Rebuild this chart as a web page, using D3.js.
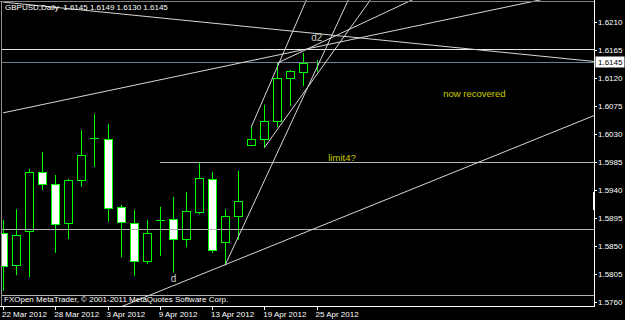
<!DOCTYPE html>
<html>
<head>
<meta charset="utf-8">
<script src="https://cdn.jsdelivr.net/npm/d3@7"></script>
<style>
  html, body { margin: 0; padding: 0; background: #000; }
  svg { display: block; }
  text { font-family: "Liberation Sans", Arial, sans-serif; }
</style>
</head>
<body>
<svg id="chart"></svg>
<script>
// GBPUSD daily, 22 Mar - 25 Apr 2012
const dates = [
    "22 Mar", "23 Mar", "26 Mar", "27 Mar", "28 Mar", "29 Mar", "30 Mar", "2 Apr", "3 Apr",
    "4 Apr", "5 Apr", "6 Apr", "9 Apr", "10 Apr", "11 Apr", "12 Apr", "13 Apr", "16 Apr",
    "17 Apr", "18 Apr", "19 Apr", "20 Apr", "23 Apr", "24 Apr", "25 Apr"
];
const opens = [1.5871, 1.5819, 1.5874, 1.5969, 1.5950, 1.5887, 1.5956, 1.6025, 1.6022, 1.5913, 1.5887, 1.5826, 1.5892,
    1.5893, 1.5861, 1.5905, 1.5958, 1.5856, 1.5898, 1.6012, 1.6022, 1.6051, 1.6120, 1.6130, 1.6145];
const highs = [1.5892, 1.5909, 1.5974, 1.6001, 1.5964, 1.5958, 1.6036, 1.6062, 1.6046, 1.5916, 1.5908, 1.5892, 1.5913,
    1.5929, 1.5937, 1.5983, 1.5969, 1.5909, 1.5971, 1.6041, 1.6077, 1.6144, 1.6133, 1.6160, 1.6149];
const lows = [1.5778, 1.5803, 1.5800, 1.5940, 1.5839, 1.5861, 1.5945, 1.5977, 1.5889, 1.5832, 1.5802, 1.5821, 1.5834,
    1.5807, 1.5848, 1.5901, 1.5839, 1.5819, 1.5860, 1.6011, 1.6008, 1.6041, 1.6075, 1.6107, 1.6130];
const closes = [1.5818, 1.5868, 1.5969, 1.5950, 1.5885, 1.5956, 1.5996, 1.6023, 1.5911, 1.5889, 1.5826, 1.5871, 1.5892,
    1.5861, 1.5906, 1.5959, 1.5844, 1.5898, 1.5922, 1.6022, 1.6051, 1.6120, 1.6131, 1.6144, 1.6145];

const priceTicks = [1.6210, 1.6165, 1.6120, 1.6075, 1.6030, 1.5985, 1.5940, 1.5895, 1.5850, 1.5805, 1.5760];
const dateTickIndex = [0, 4, 8, 12, 16, 20, 24];
const dateTickLabels = ["22 Mar 2012", "28 Mar 2012", "3 Apr 2012", "9 Apr 2012", "13 Apr 2012", "19 Apr 2012", "25 Apr 2012"];

const lastPrice = 1.6145;
const title = "GBPUSD,Daily  1.6145 1.6149 1.6130 1.6145";
const copyright = "FXOpen MetaTrader, \u00a9 2001-2011 MetaQuotes Software Corp.";

// horizontal lines: [fromIndex or null (full width), price]
const hLines = [[null, 1.6167], [12, 1.5985], [null, 1.5877], [null, 1.5772]];
// trend lines: [index1, price1, index2, price2]
const trendLines = [
    [0, 1.6242, 46, 1.6145],
    [0, 1.6064, 46, 1.6267],
    [9, 1.5752, 46, 1.6066],
    [17, 1.5819, 27, 1.6271],
    [19, 1.6041, 24, 1.6283],
    [20, 1.6008, 29, 1.6271],
    [21, 1.6144, 33, 1.6262]
];
// text objects: [text, index, price, kind]
const notes = [
    ["d2", 23.6, 1.6180, "white"],
    ["d", 12.85, 1.5792, "white"],
    ["limit4?", 24.9, 1.5987, "yellow"],
    ["now recovered", 33.7, 1.6089, "yellow"]
];

const width = 625;
const height = 320;
const plot = { left: 2, right: 594, top: 2, bottom: 306 };

const svg = d3.select("#chart").attr("width", width).attr("height", height);
svg.append("rect").attr("width", width).attr("height", height).attr("fill", "#000");

const x = d3.scaleLinear().domain([0, 24]).range([3, 316.5]);
const y = d3.scaleLinear().domain([1.5760, 1.6210]).range([302, 22]);

svg.append("clipPath").attr("id", "plotClip")
    .append("rect")
    .attr("x", plot.left).attr("y", 0)
    .attr("width", plot.right - plot.left).attr("height", plot.bottom);

const area = svg.append("g").attr("clip-path", "url(#plotClip)");

// candles
const candles = dates.map((d, i) => ({ i, o: opens[i], h: highs[i], l: lows[i], c: closes[i] }));
const green = "#00ff00";
const cg = area.append("g").attr("class", "candles");

cg.selectAll("line.wick")
    .data(candles)
    .join("line")
    .attr("class", "wick")
    .attr("x1", (d) => Math.round(x(d.i)) + 0.5)
    .attr("x2", (d) => Math.round(x(d.i)) + 0.5)
    .attr("y1", (d) => y(d.h))
    .attr("y2", (d) => y(d.l))
    .attr("stroke", green)
    .attr("stroke-width", 1);

cg.selectAll("rect.body")
    .data(candles.filter((d) => Math.abs(y(d.o) - y(d.c)) >= 1.5))
    .join("rect")
    .attr("class", "body")
    .attr("x", (d) => Math.round(x(d.i)) - 3.5)
    .attr("width", 8)
    .attr("y", (d) => Math.round(Math.min(y(d.o), y(d.c))) + 0.5)
    .attr("height", (d) => Math.round(Math.abs(y(d.o) - y(d.c))))
    .attr("fill", (d) => (d.c > d.o ? "#000000" : "#ffffff"))
    .attr("stroke", green)
    .attr("stroke-width", 1)
    .attr("shape-rendering", "crispEdges");

cg.selectAll("line.doji")
    .data(candles.filter((d) => Math.abs(y(d.o) - y(d.c)) < 1.5))
    .join("line")
    .attr("class", "doji")
    .attr("x1", (d) => Math.round(x(d.i)) - 4)
    .attr("x2", (d) => Math.round(x(d.i)) + 5)
    .attr("y1", (d) => Math.round(y(d.c)) + 0.5)
    .attr("y2", (d) => Math.round(y(d.c)) + 0.5)
    .attr("stroke", green)
    .attr("stroke-width", 1);

// horizontal lines
const lg = area.append("g").attr("class", "objects");
lg.selectAll("line.h")
    .data(hLines)
    .join("line")
    .attr("class", "h")
    .attr("x1", (d) => (d[0] === null ? 0 : x(d[0])))
    .attr("x2", plot.right)
    .attr("y1", (d) => Math.round(y(d[1])) + 0.5)
    .attr("y2", (d) => Math.round(y(d[1])) + 0.5)
    .attr("stroke", (d, i) => (i === 0 ? "#e8e8e8" : "#b4b4b4"))
    .attr("stroke-width", 1)
    .attr("shape-rendering", "crispEdges");

// bid line
lg.append("line")
    .attr("x1", 0).attr("x2", plot.right)
    .attr("y1", Math.round(y(lastPrice)) + 0.5).attr("y2", Math.round(y(lastPrice)) + 0.5)
    .attr("stroke", "#6f7f8c")
    .attr("shape-rendering", "crispEdges");

lg.selectAll("line.trend")
    .data(trendLines)
    .join("line")
    .attr("class", "trend")
    .attr("x1", (d) => x(d[0]))
    .attr("y1", (d) => y(d[1]))
    .attr("x2", (d) => x(d[2]))
    .attr("y2", (d) => y(d[3]))
    .attr("stroke", "#d8d8d8")
    .attr("stroke-width", 1);

// text objects
svg.selectAll("text.note")
    .data(notes)
    .join("text")
    .attr("class", "note")
    .attr("x", (d) => x(d[1]))
    .attr("y", (d) => y(d[2]))
    .attr("fill", (d) => (d[3] === "yellow" ? "#cccc00" : "#c8c8c8"))
    .attr("font-size", (d) => (d[3] === "yellow" ? "9.5px" : "10px"))
    .text((d) => d[0]);

// frame
const frame = svg.append("g").attr("shape-rendering", "crispEdges");
frame.append("line").attr("x1", 0).attr("x2", plot.right).attr("y1", 1.5).attr("y2", 1.5).attr("stroke", "#808080");
frame.append("line").attr("x1", 1.5).attr("x2", 1.5).attr("y1", 1).attr("y2", plot.bottom).attr("stroke", "#909090");
frame.append("line").attr("x1", plot.right + 0.5).attr("x2", plot.right + 0.5).attr("y1", 0).attr("y2", plot.bottom).attr("stroke", "#ffffff");
frame.append("line").attr("x1", 0).attr("x2", plot.right + 1).attr("y1", plot.bottom + 0.5).attr("y2", plot.bottom + 0.5).attr("stroke", "#ffffff");
frame.append("rect").attr("x", plot.right - 1).attr("y", y(1.5937)).attr("width", 2).attr("height", y(1.5908) - y(1.5937)).attr("fill", "#ffffff");

// price axis
const pa = svg.append("g").attr("class", "priceAxis");
pa.selectAll("line")
    .data(priceTicks)
    .join("line")
    .attr("x1", plot.right + 1).attr("x2", plot.right + 3)
    .attr("y1", (d) => Math.round(y(d)) + 0.5).attr("y2", (d) => Math.round(y(d)) + 0.5)
    .attr("stroke", "#ffffff")
    .attr("shape-rendering", "crispEdges");
pa.selectAll("text")
    .data(priceTicks)
    .join("text")
    .attr("x", plot.right + 4)
    .attr("y", (d) => y(d) + 3)
    .attr("fill", "#ffffff")
    .attr("font-size", "8px")
    .text((d) => d.toFixed(4));

pa.append("rect")
    .attr("x", plot.right + 1.5).attr("y", Math.round(y(lastPrice)) - 5.5)
    .attr("width", 29).attr("height", 11)
    .attr("fill", "#ffffff");
pa.append("text")
    .attr("x", plot.right + 4)
    .attr("y", y(lastPrice) + 3)
    .attr("fill", "#000")
    .attr("font-size", "8px")
    .text(lastPrice.toFixed(4));

// date axis
const da = svg.append("g").attr("class", "dateAxis");
da.selectAll("line")
    .data(dateTickIndex)
    .join("line")
    .attr("x1", (d) => Math.round(x(d)) + 0.5).attr("x2", (d) => Math.round(x(d)) + 0.5)
    .attr("y1", plot.bottom).attr("y2", plot.bottom + 4)
    .attr("stroke", "#ffffff")
    .attr("shape-rendering", "crispEdges");
da.selectAll("text")
    .data(dateTickIndex)
    .join("text")
    .attr("x", (d) => x(d) - 1)
    .attr("y", 317)
    .attr("fill", "#ffffff")
    .attr("font-size", "8px")
    .text((d, i) => dateTickLabels[i]);

// labels
svg.append("text").attr("x", 5).attr("y", 10).attr("fill", "#ffffff").attr("font-size", "8px")
    .attr("xml:space", "preserve").style("white-space", "pre").text(title);
svg.append("text").attr("x", 4).attr("y", 302).attr("fill", "#ffffff").attr("font-size", "8px").text(copyright);
</script>
</body>
</html>
